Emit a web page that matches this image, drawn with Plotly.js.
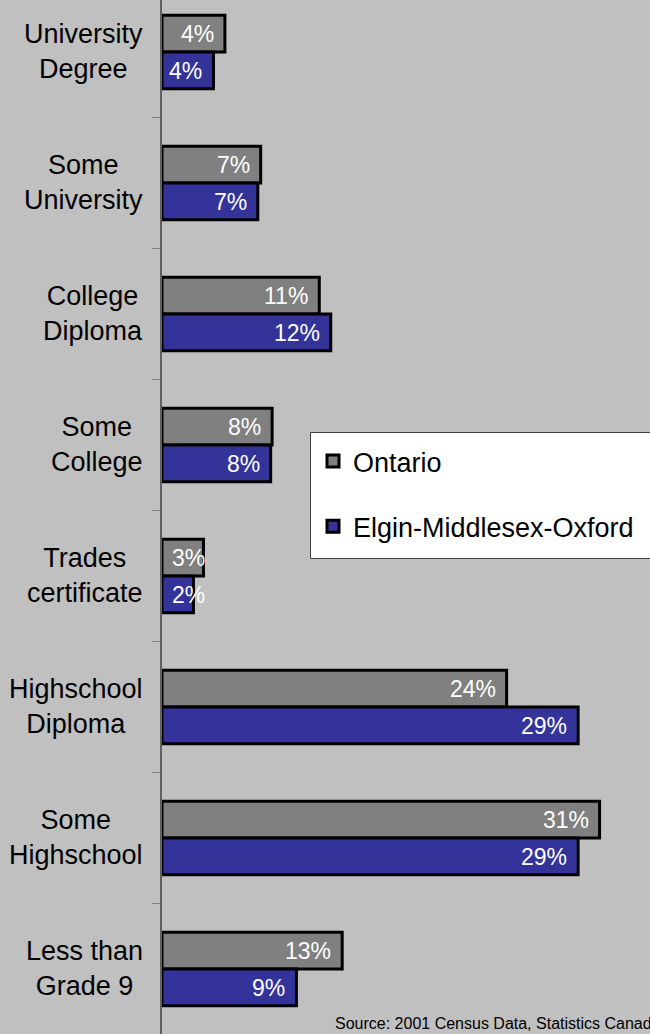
<!DOCTYPE html>
<html>
<head>
<meta charset="utf-8">
<script src="https://cdn.plot.ly/plotly-3.0.1.min.js"></script>
<style>
  html, body { margin: 0; padding: 0; background: #C0C0C0; }
  #chart { width: 650px; height: 1034px; }
</style>
</head>
<body>
<div id="chart"></div>
<script>
// Categories (top to bottom)
const categories = [
  "University<br>Degree",
  "Some<br>University",
  "College<br>Diploma",
  "Some<br>College",
  "Trades<br>certificate",
  "Highschool<br>Diploma",
  "Some<br>Highschool",
  "Less than<br>Grade 9"
];
const ontarioValues = [4.4, 6.9, 11.0, 7.7, 2.9, 24.1, 30.6, 12.6];
const emoValues     = [3.6, 6.7, 11.8, 7.6, 2.2, 29.1, 29.1, 9.4];
const seriesNames = ["Ontario", "Elgin-Middlesex-Oxford"];
const sourceNote = "Source: 2001 Census Data, Statistics Canada";

const FONT = "Arial, 'Liberation Sans', sans-serif";
const PX_PER_UNIT = 14.3;          // horizontal scale used for the x range

function barTrace(name, values, color, group) {
  return {
    type: "bar",
    orientation: "h",
    name: name,
    legendgroup: group,
    y: categories,
    x: values,
    textposition: "none",
    hoverinfo: "skip",
    marker: { color: color, line: { color: "#000000", width: 3 } }
  };
}

const traces = [
  barTrace(seriesNames[0], ontarioValues, "#808080", "g1"),
  barTrace(seriesNames[1], emoValues, "#333399", "g2")
];

const annotations = categories.map(c => ({
  xref: "paper", yref: "y",
  x: 0, y: c,
  xanchor: "right", yanchor: "middle",
  xshift: -17,
  yshift: 1,
  align: "center",
  text: c,
  showarrow: false,
  font: { family: FONT, size: 27, color: "#000000" }
}));

// value labels inside bars
function valueLabels(values, yshift) {
  values.forEach((v, i) => {
    const small = v * PX_PER_UNIT < 50;
    annotations.push({
      xref: "x", yref: "y",
      x: small ? 0 : v, y: categories[i],
      xanchor: small ? "left" : "right", yanchor: "middle",
      xshift: small ? 8 : -9,
      yshift: yshift,
      text: Math.round(v) + "%",
      showarrow: false,
      font: { family: FONT, size: 23, color: "#FFFFFF" }
    });
  });
}
valueLabels(ontarioValues, 18.5);
valueLabels(emoValues, -18.5);

annotations.push({
  xref: "paper", yref: "paper",
  x: (333 - 162) / 488, y: 1 - 1023 / 1034,
  xanchor: "left", yanchor: "middle",
  text: sourceNote,
  showarrow: false,
  font: { family: FONT, size: 16, color: "#000000" }
});

const layout = {
  width: 650,
  height: 1034,
  margin: { l: 162, r: 0, t: 0, b: 0, pad: 0, autoexpand: false },
  paper_bgcolor: "#C0C0C0",
  plot_bgcolor: "#C0C0C0",
  font: { family: FONT, size: 27, color: "#000000" },
  barmode: "group",
  bargap: 0.44,
  bargroupgap: 0,
  showlegend: true,
  legend: {
    x: (313 - 162) / 488, y: 1 - 437 / 1034,
    xanchor: "left", yanchor: "top",
    bgcolor: "rgba(0,0,0,0)",
    borderwidth: 0,
    font: { family: FONT, size: 27, color: "#000000" },
    traceorder: "grouped",
    tracegroupgap: 27
  },
  shapes: [{
    type: "rect", xref: "paper", yref: "paper", layer: "above",
    x0: (310.5 - 162) / 488, x1: 1.05,
    y0: 1 - 432.5 / 1034, y1: 1 - 558.5 / 1034,
    fillcolor: "#FFFFFF",
    line: { color: "#404040", width: 1 }
  }],
  xaxis: {
    range: [0, 488 / PX_PER_UNIT],
    showgrid: false, zeroline: false, showline: false,
    showticklabels: false, ticks: ""
  },
  yaxis: {
    type: "category",
    range: [7 + (1034 - 969) / 131, -52 / 131],
    showgrid: false, zeroline: false,
    showline: true, linecolor: "#606060", linewidth: 2,
    ticks: "outside", tickson: "boundaries", ticklen: 8,
    tickcolor: "#808080", tickwidth: 1,
    showticklabels: false
  },
  annotations: annotations
};

Plotly.newPlot("chart", traces, layout, { displayModeBar: false, staticPlot: true });
</script>
</body>
</html>
